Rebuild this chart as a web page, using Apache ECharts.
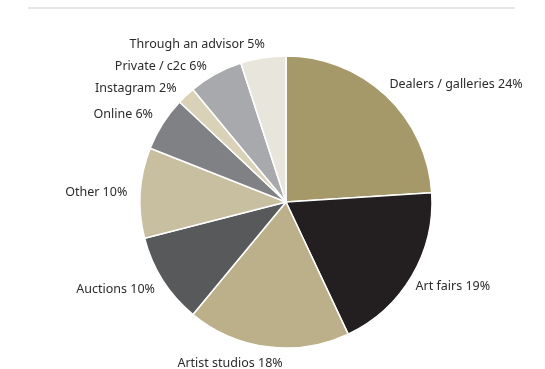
<!DOCTYPE html>
<html>
<head>
<meta charset="utf-8">
<script src="https://cdn.jsdelivr.net/npm/echarts@6/dist/echarts.min.js"></script>
<style>
  html, body { margin: 0; padding: 0; background: #fff; }
  #box { width: 545px; height: 369px; }
</style>
</head>
<body>
<div id="box"></div>
<script>
// channels where art was bought (share, %)
const channels = ['Dealers / galleries', 'Art fairs', 'Artist studios', 'Auctions', 'Other',
  'Online', 'Instagram', 'Private / c2c', 'Through an advisor'];
const shares = [24, 19, 18, 10, 10, 6, 2, 6, 5];
const colors = ['#a59869', '#231f20', '#bcb08a', '#58595b', '#c8bea0',
  '#808184', '#d9d2b9', '#a8a9ad', '#e8e5dc'];

// small nudges so the labels sit where the original put them
const nudge = [[-7, -5], [-8, 6], [21, 9], [4, 5], [0, 0], [2, -5], [1, -1], [0, -1], [8, -5]];

const chart = echarts.init(document.getElementById('box'));
const option = {
  animation: false,
  graphic: [{
    type: 'line',
    shape: { x1: 28, y1: 8, x2: 515, y2: 8 },
    style: { stroke: '#cfcfcf', lineWidth: 1 }
  }],
  series: [{
    type: 'pie',
    center: [286, 202],
    radius: [0, 146],
    startAngle: 90,
    clockwise: true,
    avoidLabelOverlap: true,
    itemStyle: { borderColor: '#fff', borderWidth: 1.5 },
    label: {
      position: 'outside',
      color: '#2b2b2b',
      fontFamily: 'Noto Sans',
      fontSize: 12.5,
      formatter: p => p.name + ' ' + p.value + '%'
    },
    labelLine: { show: false, length: 8, length2: 0 },
    labelLayout: p => ({ dx: nudge[p.dataIndex][0], dy: nudge[p.dataIndex][1] }),
    data: channels.map((c, i) => ({
      name: c,
      value: shares[i],
      itemStyle: { color: colors[i] }
    }))
  }]
};
chart.setOption(option);
</script>
</body>
</html>
